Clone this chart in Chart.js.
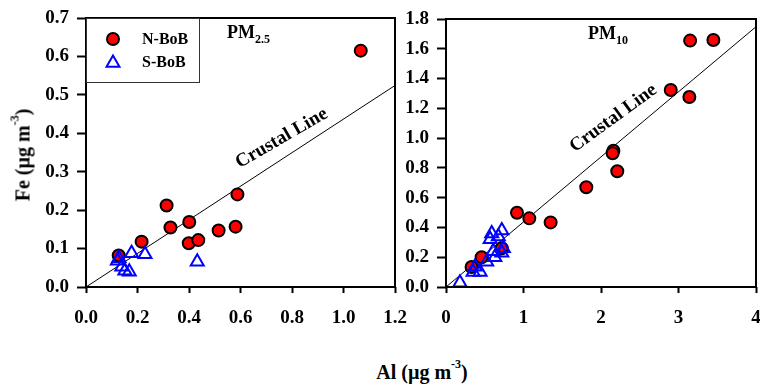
<!DOCTYPE html>
<html><head><meta charset="utf-8">
<script src="https://cdn.jsdelivr.net/npm/chart.js@4"></script>
<style>
html,body{margin:0;padding:0;background:#fff;overflow:hidden;width:760px;height:385px;}
#c1{position:absolute;left:0;top:0;}
#c2{position:absolute;left:390px;top:0;}
.t{position:absolute;font:bold 20px "Liberation Serif","Times New Roman",serif;color:#000;white-space:nowrap;transform:translate(-50%,-50%);}
.t sup{font-size:12px;vertical-align:top;position:relative;top:-4px;}
#ytitle{left:23px;top:155px;transform:translate(-50%,-50%) rotate(-90deg);}
#xtitle{left:422px;top:372px;}
</style></head>
<body>
<canvas id="c1" width="410" height="330"></canvas>
<canvas id="c2" width="380" height="330"></canvas>
<div class="t" id="ytitle">Fe (µg m<sup>-3</sup>)</div>
<div class="t" id="xtitle">Al (µg m<sup>-3</sup>)</div>
<script>
// ---- Data ----
const seriesNames = ["N-BoB", "S-BoB"];
const crustalSlope = 0.437;

// PM2.5
const pm25_N_Al = [1.067, 0.588, 0.313, 0.328, 0.401, 0.399, 0.436, 0.515, 0.581, 0.216, 0.127];
const pm25_N_Fe = [0.615, 0.241, 0.212, 0.155, 0.169, 0.114, 0.122, 0.147, 0.157, 0.118, 0.082];
const pm25_S_Al = [0.128, 0.139, 0.151, 0.168, 0.177, 0.229, 0.432, 0.122];
const pm25_S_Fe = [0.075, 0.053, 0.042, 0.040, 0.088, 0.085, 0.066, 0.068];

// PM10
const pm10_N_Al = [3.45, 3.15, 2.90, 3.14, 2.16, 2.15, 2.21, 1.81, 0.916, 1.075, 1.35, 0.72, 0.46, 0.33];
const pm10_N_Fe = [1.659, 1.655, 1.323, 1.276, 0.915, 0.898, 0.777, 0.67, 0.499, 0.461, 0.434, 0.26, 0.20, 0.134];
const pm10_S_Al = [0.18, 0.59, 0.72, 0.675, 0.57, 0.61, 0.72, 0.525, 0.44, 0.35, 0.375, 0.63, 0.74];
const pm10_S_Fe = [0.029, 0.36, 0.38, 0.34, 0.32, 0.24, 0.23, 0.17, 0.10, 0.10, 0.136, 0.20, 0.26];

// axis ranges / ticks [min, max, step]
const pm25_xTicks = [0, 1.2, 0.2];
const pm25_yTicks = [0, 0.7, 0.1];
const pm10_xTicks = [0, 4, 1];
const pm10_yTicks = [0, 1.8, 0.2];

const FONT = '"Liberation Serif","Times New Roman",serif';
const zip = (xs, ys) => xs.map((x, i) => ({x, y: ys[i]}));

function boxPlugin(opts) {
  return {
    id: 'deco',
    afterDraw(chart) {
      const ctx = chart.ctx, a = chart.chartArea;
      const xs = chart.scales.x, ys = chart.scales.y;
      ctx.save();
      ctx.strokeStyle = '#000'; ctx.lineWidth = 2;
      ctx.strokeRect(a.left, a.top, a.right - a.left, a.bottom - a.top);
      ctx.fillStyle = '#000';
      ctx.textBaseline = 'alphabetic'; ctx.textAlign = 'left';
      ctx.font = 'bold 18px ' + FONT;
      const px = a.left + opts.pmDx, py = a.top + 20;
      ctx.fillText('PM', px, py);
      const w = ctx.measureText('PM').width;
      ctx.font = 'bold 12px ' + FONT;
      ctx.fillText(opts.pmSub, px + w, py + 5);
      ctx.font = 'bold 19px ' + FONT;
      ctx.textAlign = 'center'; ctx.textBaseline = 'middle';
      ctx.translate(xs.getPixelForValue(opts.lblX), ys.getPixelForValue(opts.lblY));
      ctx.rotate(-opts.lblAngle * Math.PI / 180);
      ctx.fillText('Crustal Line', 0, 0);
      ctx.restore();
      if (opts.legend) {
        ctx.save();
        const lx = a.left, ly = a.top;
        ctx.fillStyle = '#fff';
        ctx.fillRect(lx, ly, 113, 64);
        ctx.strokeStyle = '#333'; ctx.lineWidth = 1;
        ctx.strokeRect(lx + 0.5, ly + 0.5, 113, 64);
        ctx.beginPath(); ctx.arc(lx + 27, ly + 21, 6, 0, Math.PI * 2);
        ctx.fillStyle = '#ff0000'; ctx.fill();
        ctx.lineWidth = 2; ctx.strokeStyle = '#000'; ctx.stroke();
        const tx = lx + 27, ty = ly + 45, r = 7.5;
        ctx.beginPath();
        ctx.moveTo(tx, ty - r);
        ctx.lineTo(tx + 0.866 * r, ty + 0.5 * r);
        ctx.lineTo(tx - 0.866 * r, ty + 0.5 * r);
        ctx.closePath();
        ctx.strokeStyle = '#0000ff'; ctx.lineWidth = 2; ctx.stroke();
        ctx.fillStyle = '#000';
        ctx.font = 'bold 16px ' + FONT;
        ctx.textAlign = 'left'; ctx.textBaseline = 'middle';
        ctx.fillText(seriesNames[0], lx + 56, ly + 22);
        ctx.fillText(seriesNames[1], lx + 56, ly + 45);
        ctx.restore();
      }
    }
  };
}

function makeChart(id, N, S, xT, yT, yW, pad, deco, dec) {
  return new Chart(document.getElementById(id), {
    type: 'scatter',
    data: {
      datasets: [
        { label: seriesNames[1], data: S, pointStyle: 'triangle', pointRadius: 7.5,
          backgroundColor: 'rgba(0,0,0,0)', borderColor: '#0000ff', borderWidth: 2 },
        { label: seriesNames[0], data: N, pointStyle: 'circle', pointRadius: 6,
          backgroundColor: '#ff0000', borderColor: '#000', borderWidth: 2 },
        { type: 'line', label: 'Crustal Line',
          data: [{x: xT[0], y: 0}, {x: xT[1], y: crustalSlope * xT[1]}],
          borderColor: '#000', borderWidth: 1, pointRadius: 0, fill: false }
      ]
    },
    options: {
      responsive: false, animation: false, devicePixelRatio: 1,
      layout: { padding: pad },
      plugins: { legend: { display: false }, tooltip: { enabled: false } },
      scales: {
        x: {
          type: 'linear', min: xT[0], max: xT[1],
          ticks: { stepSize: xT[2], color: '#000', padding: 14, maxRotation: 0,
                   font: { family: FONT, size: 19, weight: 'bold' },
                   callback: v => v.toFixed(dec[0]) },
          grid: { drawOnChartArea: false, drawTicks: true, tickLength: 6, tickWidth: 2, tickColor: '#000' },
          border: { display: false },
          afterFit: s => { s.height = 43; s.paddingLeft = 0; s.paddingRight = 0; }
        },
        y: {
          type: 'linear', min: yT[0], max: yT[1],
          ticks: { stepSize: yT[2], color: '#000', padding: 8,
                   font: { family: FONT, size: 19, weight: 'bold' },
                   callback: v => v.toFixed(dec[1]) },
          grid: { drawOnChartArea: false, drawTicks: true, tickLength: 9, tickWidth: 2, tickColor: '#000' },
          border: { display: false },
          afterFit: s => { s.width = yW; s.paddingTop = 0; s.paddingBottom = 0; }
        }
      }
    },
    plugins: [boxPlugin(deco)]
  });
}

makeChart('c1', zip(pm25_N_Al, pm25_N_Fe), zip(pm25_S_Al, pm25_S_Fe),
  pm25_xTicks, pm25_yTicks, 86, { top: 18, right: 15, bottom: 0, left: 0 },
  { pmDx: 141, pmSub: '2.5', lblX: 0.76, lblY: 0.387, lblAngle: 30, legend: true }, [1, 1]);

makeChart('c2', zip(pm10_N_Al, pm10_N_Fe), zip(pm10_S_Al, pm10_S_Fe),
  pm10_xTicks, pm10_yTicks, 56, { top: 19, right: 14, bottom: 0, left: 0 },
  { pmDx: 142, pmSub: '10', lblX: 2.16, lblY: 1.133, lblAngle: 36, legend: false }, [0, 1]);
</script>
</body></html>
